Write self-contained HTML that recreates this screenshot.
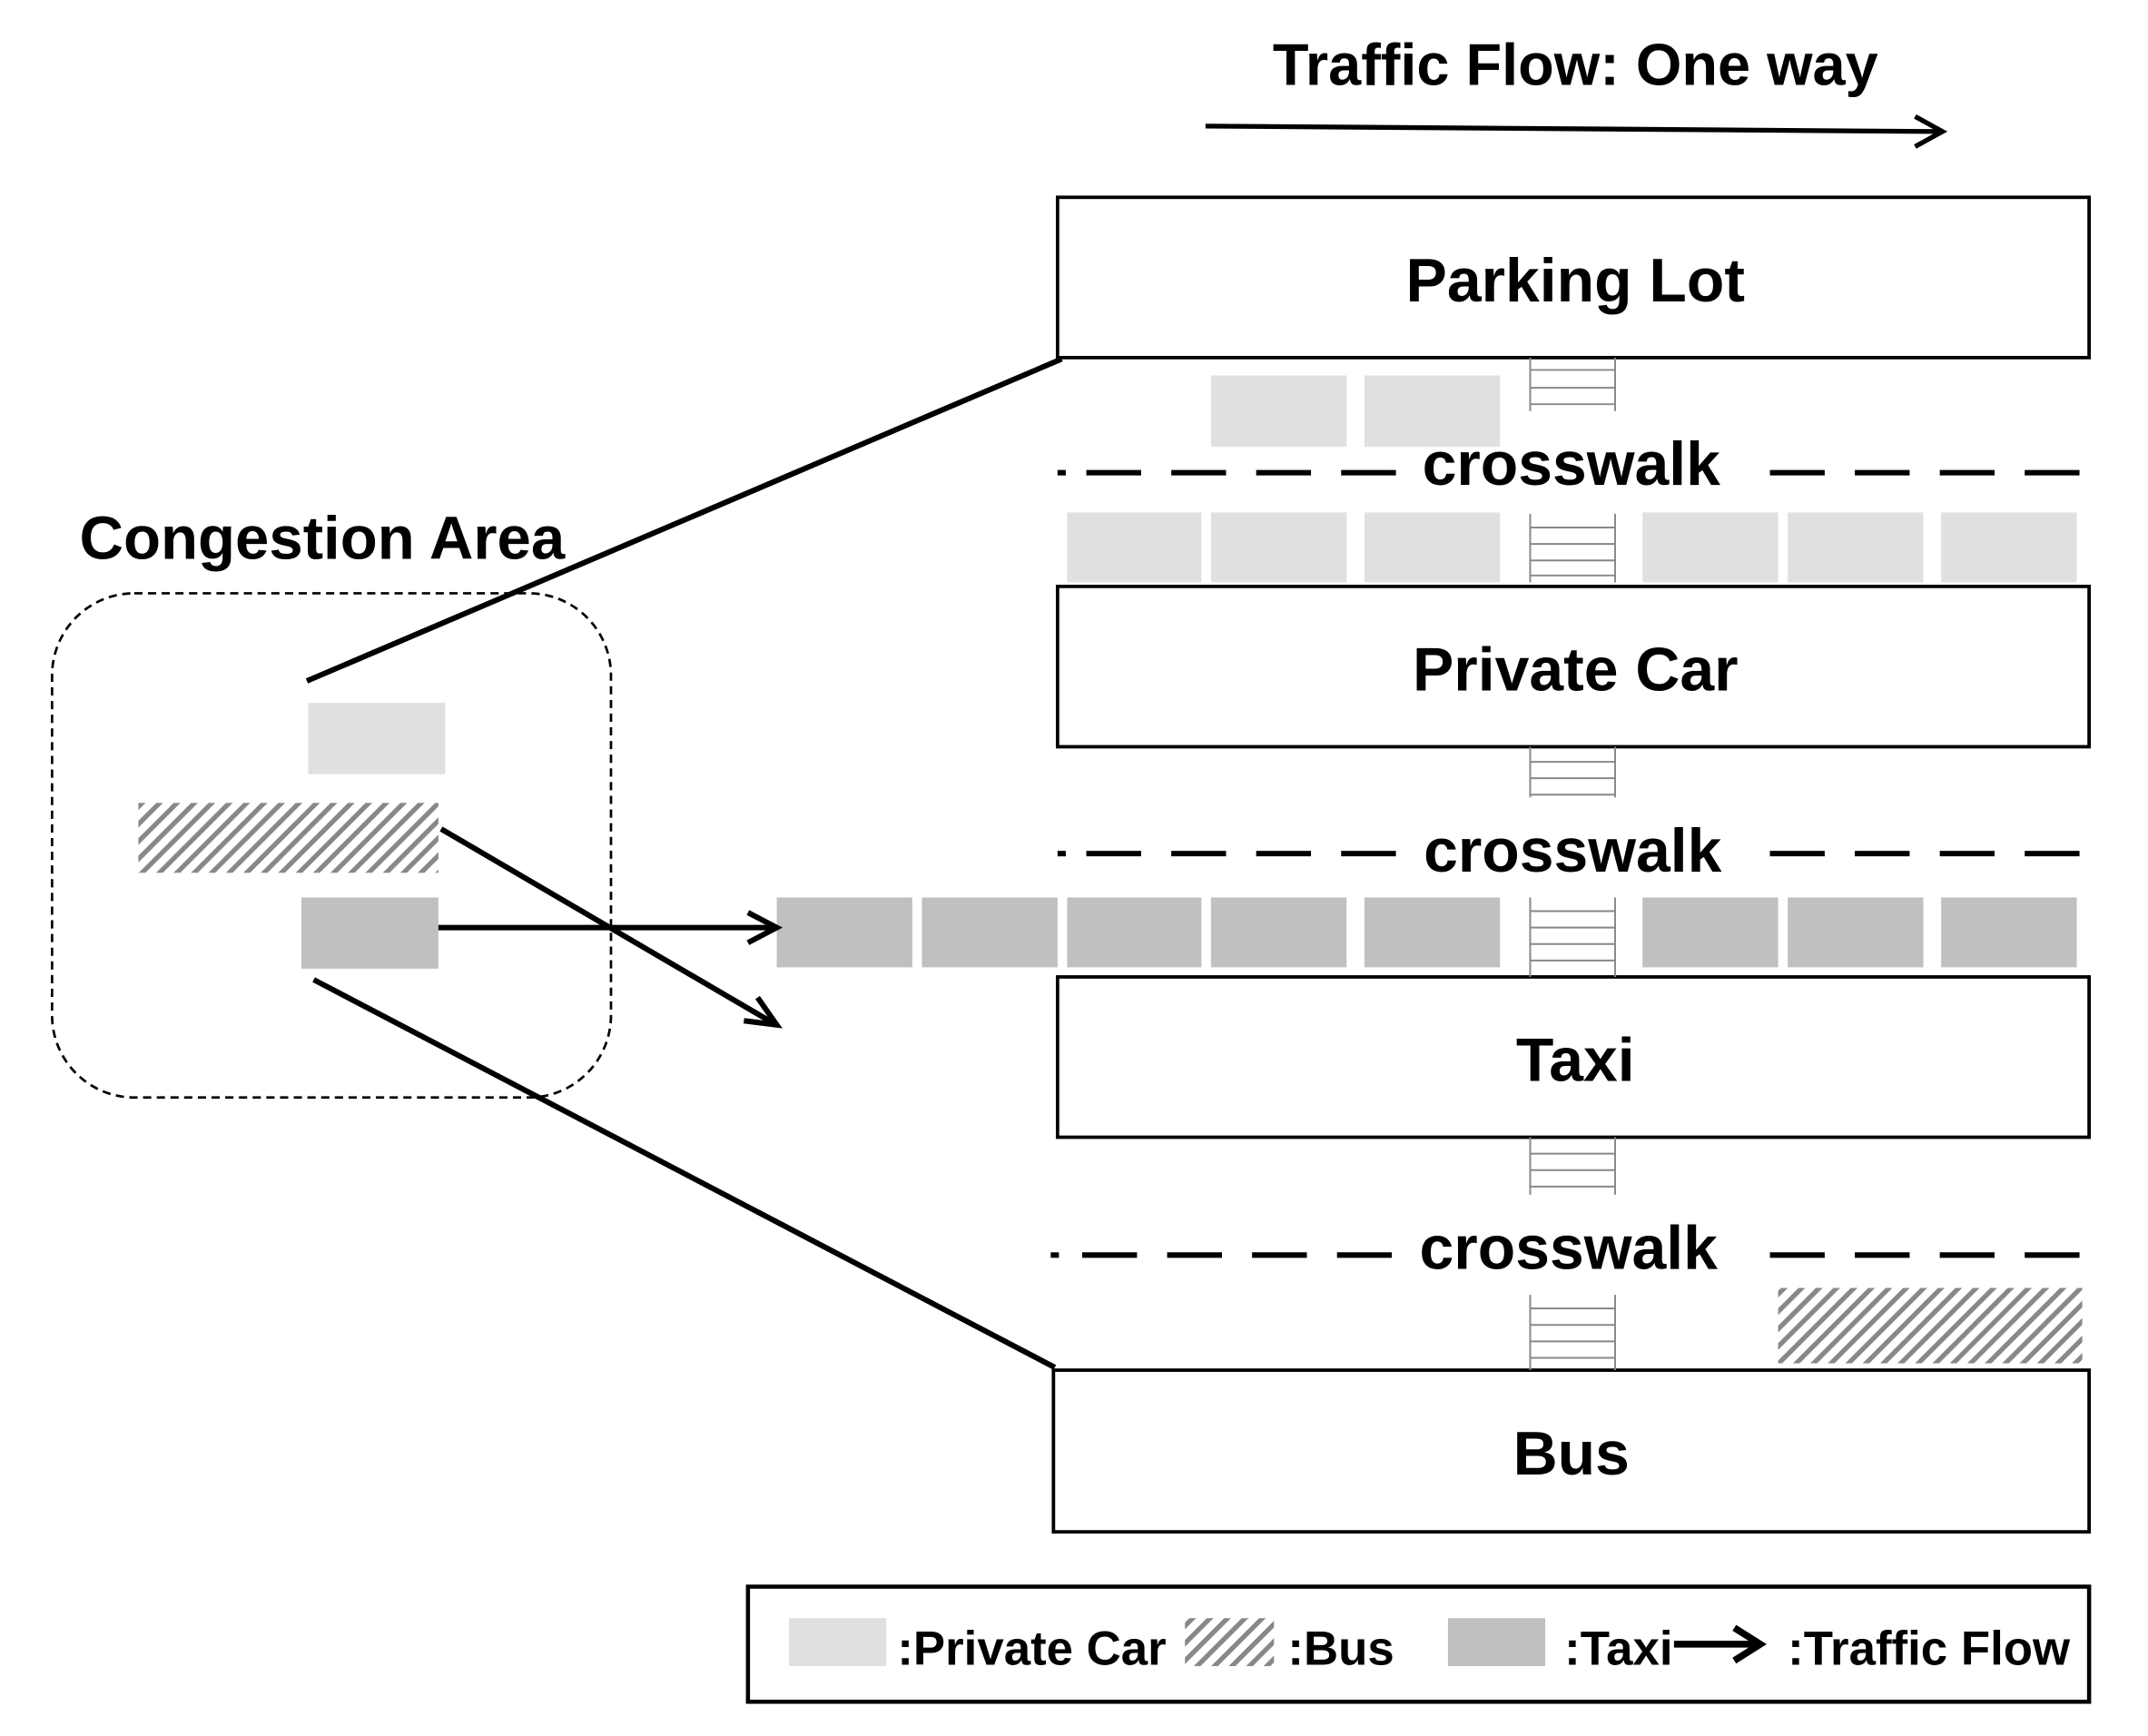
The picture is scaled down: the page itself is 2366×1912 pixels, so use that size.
<!DOCTYPE html>
<html><head><meta charset="utf-8"><style>html,body{margin:0;padding:0;background:#fff}svg{display:block}</style></head><body>
<svg width="2366" height="1912" viewBox="0 0 1568 1267" preserveAspectRatio="none" xmlns="http://www.w3.org/2000/svg" font-family="Liberation Sans, Arial, sans-serif" font-weight="bold">
<defs>
<pattern id="h" patternUnits="userSpaceOnUse" width="9" height="9" patternTransform="rotate(45)">
<rect width="9" height="9" fill="#fff"/><rect width="3.5" height="9" fill="#888"/></pattern>
</defs>
<style>.t{font-size:45px;text-anchor:middle}.c{font-size:45px;text-anchor:middle}.l{font-size:35px}</style>
<text x="1150" y="62" font-size="43" text-anchor="middle">Traffic Flow: One way</text>
<line x1="880" y1="92" x2="1416" y2="96" stroke="#000" stroke-width="3.5"/>
<path d="M1398,85 L1418,96 L1398,107" fill="none" stroke="#000" stroke-width="3.5"/>
<g fill="#fff" stroke="#000" stroke-width="2.5">
<rect x="772" y="144" width="753" height="117"/>
<rect x="772" y="428" width="753" height="117"/>
<rect x="772" y="713" width="753" height="117"/>
<rect x="769" y="1000" width="756" height="118"/>
</g>
<text class="t" x="1150" y="220">Parking Lot</text>
<text class="t" x="1150" y="504">Private Car</text>
<text class="t" x="1150" y="789">Taxi</text>
<text class="t" x="1147" y="1076">Bus</text>
<g stroke="#888" stroke-width="1.3">
<path d="M1117,261V300M1179,261V300M1117,270H1179M1117,283H1179M1117,295H1179"/>
<path d="M1117,375V425M1179,375V425M1117,385H1179M1117,397H1179M1117,409H1179M1117,420H1179"/>
<path d="M1117,545V582M1179,545V582M1117,556H1179M1117,568H1179M1117,580H1179"/>
<path d="M1117,655V713M1179,655V713M1117,665H1179M1117,677H1179M1117,689H1179M1117,701H1179"/>
<path d="M1117,830V872M1179,830V872M1117,842H1179M1117,854H1179M1117,866H1179"/>
<path d="M1117,945V1000M1179,945V1000M1117,955H1179M1117,967H1179M1117,979H1179M1117,991H1179"/>
</g>
<g fill="#e0e0e0">
<rect x="884" y="274" width="99" height="52"/><rect x="996" y="274" width="99" height="52"/>
<rect x="779" y="374" width="98" height="51"/><rect x="884" y="374" width="99" height="51"/><rect x="996" y="374" width="99" height="51"/>
<rect x="1199" y="374" width="99" height="51"/><rect x="1305" y="374" width="99" height="51"/><rect x="1417" y="374" width="99" height="51"/>
<rect x="225" y="513" width="100" height="52"/>
<rect x="576" y="1181" width="71" height="35"/>
</g>
<g fill="#c0c0c0">
<rect x="567" y="655" width="99" height="51"/><rect x="673" y="655" width="99" height="51"/><rect x="779" y="655" width="98" height="51"/>
<rect x="884" y="655" width="99" height="51"/><rect x="996" y="655" width="99" height="51"/>
<rect x="1199" y="655" width="99" height="51"/><rect x="1305" y="655" width="99" height="51"/><rect x="1417" y="655" width="99" height="51"/>
<rect x="220" y="655" width="100" height="52"/>
<rect x="1057" y="1181" width="71" height="35"/>
</g>
<rect x="1298" y="940" width="222" height="55" fill="url(#h)"/>
<rect x="101" y="586" width="219" height="51" fill="url(#h)"/>
<rect x="865" y="1181" width="65" height="35" fill="url(#h)"/>
<g stroke="#000" stroke-width="4" stroke-dasharray="40,22">
<line x1="793" y1="345" x2="1020" y2="345"/><line x1="1292" y1="345" x2="1522" y2="345"/>
<line x1="793" y1="623" x2="1020" y2="623"/><line x1="1292" y1="623" x2="1522" y2="623"/>
<line x1="790" y1="916" x2="1020" y2="916"/><line x1="1292" y1="916" x2="1522" y2="916"/>
</g>
<g fill="#000"><rect x="772" y="343" width="6" height="4"/><rect x="772" y="621" width="6" height="4"/><rect x="767" y="914" width="6" height="4"/></g>
<text class="c" x="1147" y="354">crosswalk</text>
<text class="c" x="1148" y="636">crosswalk</text>
<text class="c" x="1145" y="926">crosswalk</text>
<text x="58" y="408" font-size="44.5">Congestion Area</text>
<rect x="38" y="433" width="408" height="368" rx="60" fill="none" stroke="#000" stroke-width="1.8" stroke-dasharray="6,4"/>
<g stroke="#000" stroke-width="4" fill="none">
<line x1="224" y1="497" x2="775" y2="262"/>
<line x1="229" y1="715" x2="770" y2="998"/>
<line x1="320" y1="677" x2="565" y2="677"/>
<path d="M546,666 L567,677 L546,688"/>
<line x1="322" y1="605" x2="565" y2="747"/>
<path d="M543,745 L567,748 L553,728"/>
</g>
<rect x="546" y="1158" width="979" height="84" fill="none" stroke="#000" stroke-width="3"/>
<text class="l" x="655" y="1215">:Private Car</text>
<text class="l" x="940" y="1215">:Bus</text>
<text class="l" x="1142" y="1215">:Taxi</text>
<line x1="1222" y1="1200" x2="1280" y2="1200" stroke="#000" stroke-width="5"/>
<path d="M1266,1188 L1285,1200 L1266,1212" fill="none" stroke="#000" stroke-width="5"/>
<text class="l" x="1305" y="1215">:Traffic Flow</text>
</svg>
</body></html>
